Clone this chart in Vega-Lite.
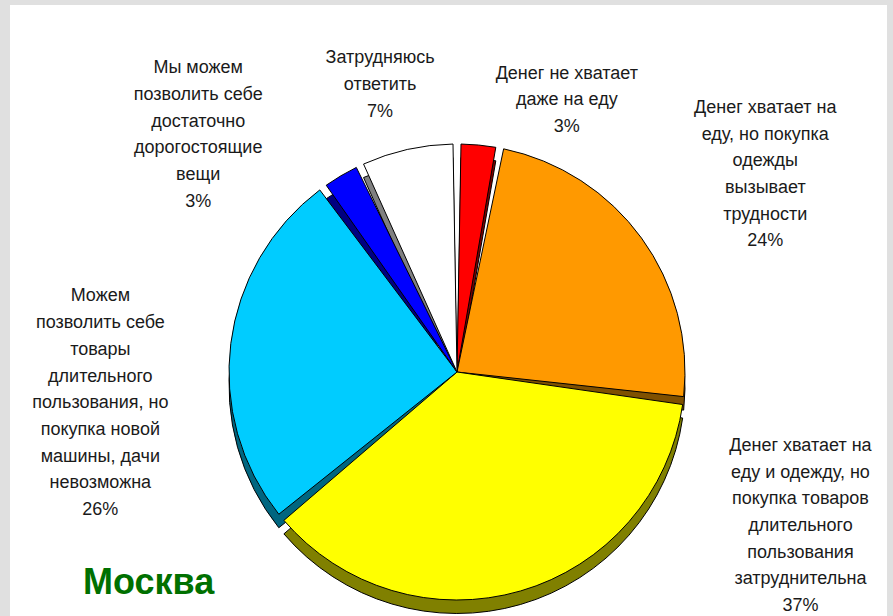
{
  "$schema": "https://vega.github.io/schema/vega-lite/v6.json",
  "width": 877,
  "height": 611,
  "autosize": "none",
  "padding": {"left": 10, "top": 5, "right": 6, "bottom": 0},
  "background": "#e0e0e0",
  "view": {"fill": "white", "stroke": null},
  "config": {"view": {"fill": "white", "stroke": null}, "text": {"font": "Liberation Sans"}},
  "title": {"text": "Москва", "orient": "bottom", "anchor": "start", "frame": "group", "offset": -77, "dx": 73, "baseline": "alphabetic", "font": "Liberation Sans", "fontSize": 36, "fontWeight": "bold", "color": "#007000"},
  "data": {"values": [
    {"i": 1, "cat": "Денег не хватает даже на еду", "value": 3, "label": "Денег не хватает\nдаже на еду\n3%"},
    {"i": 2, "cat": "Денег хватает на еду, но покупка одежды вызывает трудности", "value": 24, "label": "Денег хватает на\nеду, но покупка\nодежды\nвызывает\nтрудности\n24%"},
    {"i": 3, "cat": "Денег хватает на еду и одежду, но покупка товаров длительного пользования затруднительна", "value": 37, "label": "Денег хватает на\nеду и одежду, но\nпокупка товаров\nдлительного\nпользования\nзатруднительна\n37%"},
    {"i": 4, "cat": "Можем позволить себе товары длительного пользования, но покупка новой машины, дачи невозможна", "value": 26, "label": "Можем\nпозволить себе\nтовары\nдлительного\nпользования, но\nпокупка новой\nмашины, дачи\nневозможна\n26%"},
    {"i": 5, "cat": "Мы можем позволить себе достаточно дорогостоящие вещи", "value": 3, "label": "Мы можем\nпозволить себе\nдостаточно\nдорогостоящие\nвещи\n3%"},
    {"i": 6, "cat": "Затрудняюсь ответить", "value": 7, "label": "Затрудняюсь\nответить\n7%"}
  ]},
  "encoding": {
    "theta": {"field": "value", "type": "quantitative", "stack": true},
    "order": {"field": "i", "type": "quantitative"}
  },
  "resolve": {"scale": {"color": "independent"}},
  "layer": [
    {
      "mark": {"type": "arc", "outerRadius": 228, "padAngle": 0.035, "stroke": "black", "strokeWidth": 1, "xOffset": 8.5, "yOffset": 75},
      "encoding": {
        "color": {"field": "i", "type": "nominal", "legend": null,
          "scale": {"domain": [1, 2, 3, 4, 5, 6], "range": ["#7f0000", "#7f5000", "#808000", "#006680", "#000080", "#808080"]}}
      }
    },
    {
      "mark": {"type": "arc", "outerRadius": 228, "padAngle": 0.035, "stroke": "black", "strokeWidth": 1, "xOffset": 8.5, "yOffset": 61.5},
      "encoding": {
        "color": {"field": "cat", "type": "nominal", "legend": null,
          "scale": {"domain": ["Денег не хватает даже на еду", "Денег хватает на еду, но покупка одежды вызывает трудности", "Денег хватает на еду и одежду, но покупка товаров длительного пользования затруднительна", "Можем позволить себе товары длительного пользования, но покупка новой машины, дачи невозможна", "Мы можем позволить себе достаточно дорогостоящие вещи", "Затрудняюсь ответить"], "range": ["#ff0000", "#ff9900", "#ffff00", "#00ccff", "#0000ff", "#ffffff"]}}
      }
    },
    {
      "mark": {"type": "text", "radius": 293, "thetaOffset": 0.29, "dy": -26.7, "lineBreak": "\n", "lineHeight": 26.7, "fontSize": 18, "fill": "#1a1a1a", "align": "center", "baseline": "middle", "xOffset": 8.5, "yOffset": 61.5},
      "encoding": {"text": {"condition": {"test": "datum.i === 1", "field": "label"}, "value": ""}}
    },
    {
      "mark": {"type": "text", "radius": 366, "thetaOffset": 0.059, "dy": -66.75, "lineBreak": "\n", "lineHeight": 26.7, "fontSize": 18, "fill": "#1a1a1a", "align": "center", "baseline": "middle", "xOffset": 8.5, "yOffset": 61.5},
      "encoding": {"text": {"condition": {"test": "datum.i === 2", "field": "label"}, "value": ""}}
    },
    {
      "mark": {"type": "text", "radius": 378, "thetaOffset": -0.857, "dy": -84, "lineBreak": "\n", "lineHeight": 26.7, "fontSize": 18, "fill": "#1a1a1a", "align": "center", "baseline": "middle", "xOffset": 8.5, "yOffset": 61.5},
      "encoding": {"text": {"condition": {"test": "datum.i === 3", "field": "label"}, "value": ""}}
    },
    {
      "mark": {"type": "text", "radius": 358, "thetaOffset": -0.213, "dy": -106.8, "lineBreak": "\n", "lineHeight": 26.7, "fontSize": 18, "fill": "#1a1a1a", "align": "center", "baseline": "middle", "xOffset": 8.5, "yOffset": 61.5},
      "encoding": {"text": {"condition": {"test": "datum.i === 4", "field": "label"}, "value": ""}}
    },
    {
      "mark": {"type": "text", "radius": 351, "thetaOffset": -0.295, "dy": -66.75, "lineBreak": "\n", "lineHeight": 26.7, "fontSize": 18, "fill": "#1a1a1a", "align": "center", "baseline": "middle", "xOffset": 8.5, "yOffset": 61.5},
      "encoding": {"text": {"condition": {"test": "datum.i === 5", "field": "label"}, "value": ""}}
    },
    {
      "mark": {"type": "text", "radius": 297, "thetaOffset": -0.042, "dy": -26.7, "lineBreak": "\n", "lineHeight": 26.7, "fontSize": 18, "fill": "#1a1a1a", "align": "center", "baseline": "middle", "xOffset": 8.5, "yOffset": 61.5},
      "encoding": {"text": {"condition": {"test": "datum.i === 6", "field": "label"}, "value": ""}}
    }
  ]
}
